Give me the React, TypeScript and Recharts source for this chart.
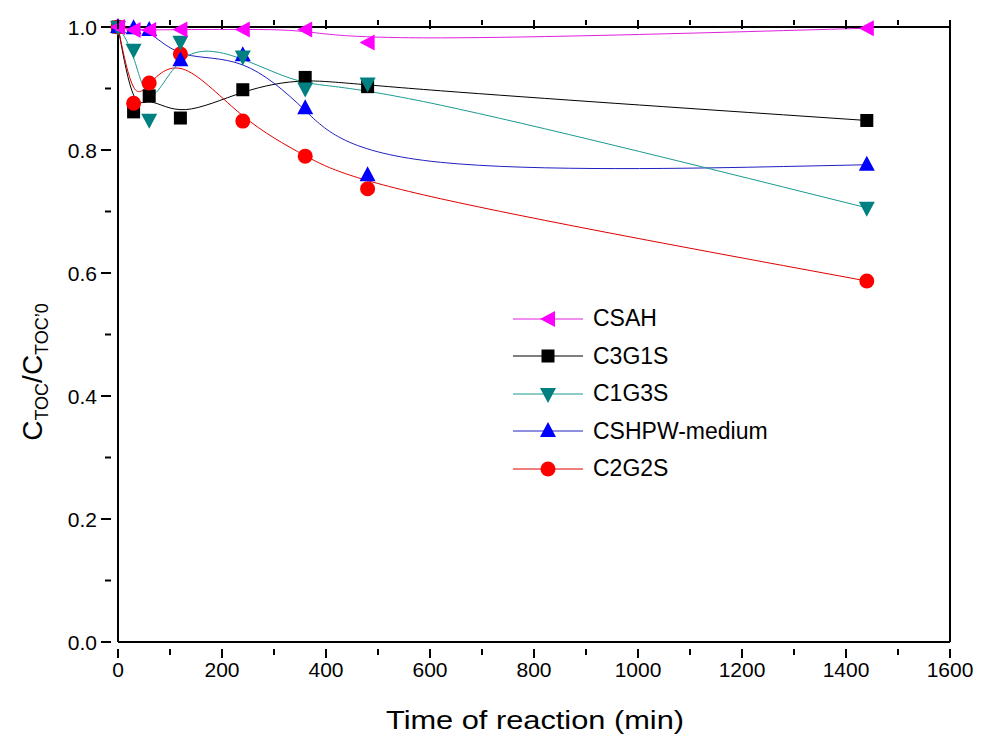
import React from "react";
import { LineChart, Line, XAxis, YAxis } from "recharts";

const times = [0, 30, 60, 120, 240, 360, 480, 1440];
const csah = [1.0, 0.995, 0.995, 0.996, 0.996, 0.996, 0.975, 0.998];
const c3g1s = [1.0, 0.862, 0.888, 0.852, 0.898, 0.918, 0.903, 0.848];
const c1g3s = [1.0, 0.963, 0.849, 0.976, 0.952, 0.9, 0.908, 0.706];
const cshpw = [1.0, 0.998, 0.995, 0.946, 0.954, 0.868, 0.759, 0.776];
const c2g2s = [1.0, 0.876, 0.909, 0.956, 0.847, 0.79, 0.737, 0.587];

const xTicks = [0, 100, 200, 300, 400, 500, 600, 700, 800, 900, 1000, 1100, 1200, 1300, 1400, 1500, 1600];
const yTicks = [0, 0.1, 0.2, 0.3, 0.4, 0.5, 0.6, 0.7, 0.8, 0.9, 1.0];

const data = times.map((t, i) => ({
  t,
  csah: csah[i],
  c3g1s: c3g1s[i],
  c1g3s: c1g3s[i],
  cshpw: cshpw[i],
  c2g2s: c2g2s[i],
}));

// marker shapes, Origin style
const Marker = ({ shape, cx, cy, fill }: any) => {
  if (cx == null || cy == null) return null;
  switch (shape) {
    case "left":
      return <polygon points={`${cx - 8},${cy} ${cx + 7},${cy - 8} ${cx + 7},${cy + 8}`} fill={fill} />;
    case "square":
      return <rect x={cx - 6.5} y={cy - 6.5} width={13} height={13} fill={fill} />;
    case "down":
      return <polygon points={`${cx - 8},${cy - 6} ${cx + 8},${cy - 6} ${cx},${cy + 9}`} fill={fill} />;
    case "up":
      return <polygon points={`${cx - 8},${cy + 6} ${cx + 8},${cy + 6} ${cx},${cy - 9}`} fill={fill} />;
    default:
      return <circle cx={cx} cy={cy} r={7.5} fill={fill} />;
  }
};

const series = [
  { key: "c3g1s", name: "C3G1S", shape: "square", fill: "#000000", stroke: "#000000" },
  { key: "c2g2s", name: "C2G2S", shape: "circle", fill: "#FF0000", stroke: "#E00000" },
  { key: "cshpw", name: "CSHPW-medium", shape: "up", fill: "#0000FF", stroke: "#2020C0" },
  { key: "c1g3s", name: "C1G3S", shape: "down", fill: "#008080", stroke: "#1A9A90" },
  { key: "csah", name: "CSAH", shape: "left", fill: "#FF00FF", stroke: "#E020E0" },
];
const legendOrder = ["csah", "c3g1s", "c1g3s", "cshpw", "c2g2s"];

const font = "Arial, 'Liberation Sans', sans-serif";

const BottomTick = ({ x, y, payload }: any) => {
  const major = payload.value % 200 === 0;
  return (
    <g>
      <line x1={x} x2={x} y1={y - 1} y2={y + (major ? 8 : 5)} stroke="#000" strokeWidth={2} />
      {major && (
        <text x={x} y={y + 27} textAnchor="middle" fontSize={21} fontFamily={font} fill="#000">
          {payload.value}
        </text>
      )}
    </g>
  );
};

const TopTick = ({ x, y, payload }: any) => {
  const major = payload.value % 200 === 0;
  return <line x1={x} x2={x} y1={y + 1} y2={y + 1 + (major ? 9 : 5)} stroke="#000" strokeWidth={2} />;
};

const LeftTick = ({ x, y, payload }: any) => {
  const major = Math.round(payload.value * 10) % 2 === 0;
  return (
    <g>
      <line x1={x + 1} x2={x + 1 - (major ? 10 : 6)} y1={y} y2={y} stroke="#000" strokeWidth={2} />
      {major && (
        <text x={x - 13} y={y + 7.5} textAnchor="end" fontSize={21} fontFamily={font} fill="#000">
          {payload.value.toFixed(1)}
        </text>
      )}
    </g>
  );
};

const RightTick = ({ x, y, payload }: any) => {
  const major = Math.round(payload.value * 10) % 2 === 0;
  return <line x1={x - 1} x2={x - 1 - (major ? 10 : 6)} y1={y} y2={y} stroke="#000" strokeWidth={2} />;
};

const LegendBox = () => (
  <div style={{ position: "absolute", left: 513, top: 300, fontFamily: font, fontSize: 23, color: "#000" }}>
    {legendOrder.map((k) => {
      const s = series.find((d) => d.key === k)!;
      return (
        <div key={k} style={{ display: "flex", alignItems: "center", height: 37.5 }}>
          <svg width={76} height={24}>
            <line x1={0} x2={70} y1={12} y2={12} stroke={s.stroke} strokeWidth={1} />
            <Marker shape={s.shape} cx={35} cy={12} fill={s.fill} />
          </svg>
          <span style={{ marginLeft: 4 }}>{s.name}</span>
        </div>
      );
    })}
  </div>
);

const YLabel = () => (
  <text
    transform="translate(42,372) rotate(-90)"
    textAnchor="middle"
    fontFamily={font}
    fontSize={28}
    fill="#000"
  >
    C<tspan fontSize={18} dy={6}>TOC</tspan>
    <tspan dy={-6}>/C</tspan>
    <tspan fontSize={18} dy={6}>TOC’0</tspan>
  </text>
);

export default function App() {
  return (
    <div style={{ position: "absolute", left: 0, top: 0, width: 981, height: 738, background: "#fff" }}>
      <LineChart width={981} height={738} data={data} margin={{ top: 26, right: 21, bottom: 36, left: 38 }}>
        <XAxis
          dataKey="t"
          type="number"
          domain={[0, 1600]}
          ticks={xTicks}
          interval={0}
          tick={<BottomTick />}
          tickLine={false}
          axisLine={{ stroke: "#000", strokeWidth: 2 }}
          height={60}
          xAxisId="b"
        />
        <XAxis
          dataKey="t"
          type="number"
          domain={[0, 1600]}
          ticks={xTicks}
          interval={0}
          tick={<TopTick />}
          tickLine={false}
          axisLine={{ stroke: "#000", strokeWidth: 2 }}
          orientation="top"
          height={1}
          xAxisId="t"
        />
        <YAxis
          type="number"
          domain={[0, 1]}
          ticks={yTicks}
          interval={0}
          tick={<LeftTick />}
          tickLine={false}
          axisLine={{ stroke: "#000", strokeWidth: 2 }}
          width={80}
          yAxisId="l"
          label={{ content: () => <YLabel /> }}
        />
        <YAxis
          type="number"
          domain={[0, 1]}
          ticks={yTicks}
          interval={0}
          tick={<RightTick />}
          tickLine={false}
          axisLine={{ stroke: "#000", strokeWidth: 2 }}
          orientation="right"
          width={10}
          yAxisId="r"
        />
        {series.map((s) => (
          <Line
            key={s.key}
            xAxisId="b"
            yAxisId="l"
            dataKey={s.key}
            name={s.name}
            type="basis"
            stroke={s.stroke}
            strokeWidth={1}
            isAnimationActive={false}
            dot={(p: any) => <Marker key={`${s.key}-${p.index}`} shape={s.shape} cx={p.cx} cy={p.cy} fill={s.fill} />}
            activeDot={false}
          />
        ))}
      </LineChart>
      <LegendBox />
      <svg style={{ position: "absolute", left: 0, top: 690 }} width={981} height={48}>
        <text
          x={386}
          y={39}
          fontFamily={font}
          fontSize={26}
          textLength={298}
          lengthAdjust="spacingAndGlyphs"
          fill="#000"
        >
          Time of reaction (min)
        </text>
      </svg>
    </div>
  );
}
